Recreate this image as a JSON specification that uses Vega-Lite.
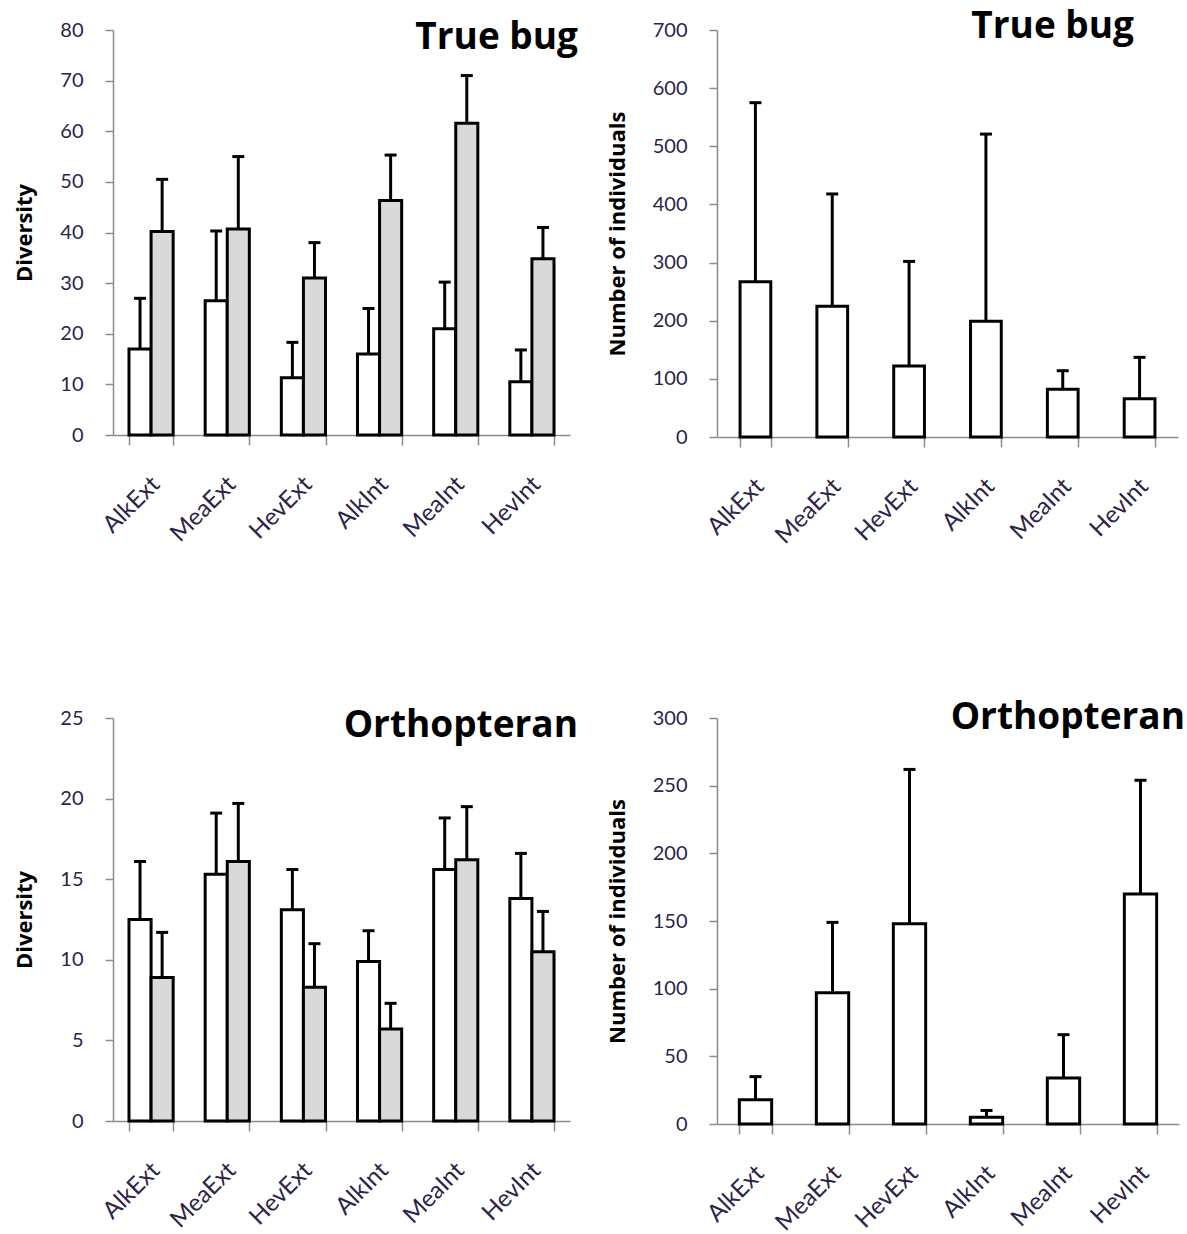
{
  "$schema": "https://vega.github.io/schema/vega-lite/v6.json",
  "background": "white",
  "padding": {"left": 13, "top": 8, "right": 0, "bottom": 0},
  "config": {
    "view": {"stroke": null},
    "font": "Lato",
    "axis": {
      "domainColor": "#8c8c8c",
      "domainWidth": 1.5,
      "tickColor": "#8c8c8c",
      "tickWidth": 1.5,
      "grid": false,
      "labelColor": "#2b2548",
      "labelFont": "Lato",
      "labelFontSize": 20,
      "titleFont": "Open Sans",
      "titleFontSize": 22,
      "titleFontWeight": "bold",
      "titleColor": "black"
    },
    "axisX": {"labelAngle": -45, "labelFontSize": 24, "tickSize": 10, "tickBand": "extent", "labelPadding": 27, "labelOffset": -4, "title": null},
    "axisY": {"tickSize": 8, "labelPadding": 22, "titlePadding": 23},
    "title": {"font": "Open Sans", "fontSize": 37, "fontWeight": "bold", "color": "black", "anchor": "end"}
  },
  "datasets": {
    "tb_div": [
      {"site": "AlkExt", "group": "a", "value": 17, "upper": 27},
      {"site": "AlkExt", "group": "b", "value": 40.2, "upper": 50.5},
      {"site": "MeaExt", "group": "a", "value": 26.5, "upper": 40.3},
      {"site": "MeaExt", "group": "b", "value": 40.7, "upper": 55},
      {"site": "HevExt", "group": "a", "value": 11.3, "upper": 18.3},
      {"site": "HevExt", "group": "b", "value": 31, "upper": 38},
      {"site": "AlkInt", "group": "a", "value": 16, "upper": 25},
      {"site": "AlkInt", "group": "b", "value": 46.3, "upper": 55.3},
      {"site": "MeaInt", "group": "a", "value": 21, "upper": 30.2},
      {"site": "MeaInt", "group": "b", "value": 61.6, "upper": 71},
      {"site": "HevInt", "group": "a", "value": 10.5, "upper": 16.8},
      {"site": "HevInt", "group": "b", "value": 34.8, "upper": 41}
    ],
    "tb_num": [
      {"site": "AlkExt", "value": 267, "upper": 575},
      {"site": "MeaExt", "value": 225, "upper": 418},
      {"site": "HevExt", "value": 122, "upper": 302},
      {"site": "AlkInt", "value": 199, "upper": 521},
      {"site": "MeaInt", "value": 82, "upper": 114},
      {"site": "HevInt", "value": 66, "upper": 137}
    ],
    "or_div": [
      {"site": "AlkExt", "group": "a", "value": 12.5, "upper": 16.1},
      {"site": "AlkExt", "group": "b", "value": 8.9, "upper": 11.7},
      {"site": "MeaExt", "group": "a", "value": 15.3, "upper": 19.1},
      {"site": "MeaExt", "group": "b", "value": 16.1, "upper": 19.7},
      {"site": "HevExt", "group": "a", "value": 13.1, "upper": 15.6},
      {"site": "HevExt", "group": "b", "value": 8.3, "upper": 11.0},
      {"site": "AlkInt", "group": "a", "value": 9.9, "upper": 11.8},
      {"site": "AlkInt", "group": "b", "value": 5.7, "upper": 7.3},
      {"site": "MeaInt", "group": "a", "value": 15.6, "upper": 18.8},
      {"site": "MeaInt", "group": "b", "value": 16.2, "upper": 19.5},
      {"site": "HevInt", "group": "a", "value": 13.8, "upper": 16.6},
      {"site": "HevInt", "group": "b", "value": 10.5, "upper": 13.0}
    ],
    "or_num": [
      {"site": "AlkExt", "value": 18, "upper": 35},
      {"site": "MeaExt", "value": 97, "upper": 149},
      {"site": "HevExt", "value": 148, "upper": 262},
      {"site": "AlkInt", "value": 5, "upper": 10},
      {"site": "MeaInt", "value": 34, "upper": 66},
      {"site": "HevInt", "value": 170, "upper": 254}
    ]
  },
  "spacing": 150,
  "vconcat": [
    {
      "spacing": 28,
      "hconcat": [
        {
          "width": 457, "height": 405,
          "data": {"name": "tb_div"},
          "title": {"text": "True bug", "offset": -37, "dx": 8},
          "encoding": {
            "x": {"field": "site", "type": "nominal", "sort": ["AlkExt", "MeaExt", "HevExt", "AlkInt", "MeaInt", "HevInt"], "scale": {"paddingInner": 0.42, "paddingOuter": 0.21}},
            "xOffset": {"field": "group", "type": "nominal", "scale": {"paddingInner": 0, "paddingOuter": 0}}
          },
          "layer": [
            {"mark": {"type": "bar", "stroke": "black", "strokeWidth": 3},
             "encoding": {
               "y": {"field": "value", "type": "quantitative", "scale": {"domain": [0, 80], "nice": false}, "axis": {"title": "Diversity", "values": [0, 10, 20, 30, 40, 50, 60, 70, 80]}},
               "fill": {"field": "group", "type": "nominal", "scale": {"domain": ["a", "b"], "range": ["white", "#d9d9d9"]}, "legend": null}
             }},
            {"mark": {"type": "rule", "strokeWidth": 3, "color": "black"},
             "encoding": {"y": {"field": "value", "type": "quantitative", "axis": {"title": "Diversity", "values": [0, 10, 20, 30, 40, 50, 60, 70, 80]}}, "y2": {"field": "upper"}}},
            {"mark": {"type": "tick", "thickness": 3, "size": 12, "color": "black", "opacity": 1},
             "encoding": {"y": {"field": "upper", "type": "quantitative", "axis": {"title": "Diversity", "values": [0, 10, 20, 30, 40, 50, 60, 70, 80]}}}}
          ]
        },
        {
          "width": 461, "height": 407,
          "data": {"name": "tb_num"},
          "title": {"text": "True bug", "offset": -26, "dx": -44},
          "encoding": {
            "x": {"field": "site", "type": "nominal", "sort": ["AlkExt", "MeaExt", "HevExt", "AlkInt", "MeaInt", "HevInt"], "scale": {"paddingInner": 0.6, "paddingOuter": 0.3}}
          },
          "layer": [
            {"mark": {"type": "bar", "stroke": "black", "strokeWidth": 3, "fill": "white"},
             "encoding": {
               "y": {"field": "value", "type": "quantitative", "scale": {"domain": [0, 700], "nice": false}, "axis": {"title": "Number of individuals", "values": [0, 100, 200, 300, 400, 500, 600, 700]}}
             }},
            {"mark": {"type": "rule", "strokeWidth": 3, "color": "black"},
             "encoding": {"y": {"field": "value", "type": "quantitative", "axis": {"title": "Number of individuals", "values": [0, 100, 200, 300, 400, 500, 600, 700]}}, "y2": {"field": "upper"}}},
            {"mark": {"type": "tick", "thickness": 3, "size": 12, "color": "black", "opacity": 1},
             "encoding": {"y": {"field": "upper", "type": "quantitative", "axis": {"title": "Number of individuals", "values": [0, 100, 200, 300, 400, 500, 600, 700]}}}}
          ]
        }
      ]
    },
    {
      "spacing": 28,
      "hconcat": [
        {
          "width": 457, "height": 403,
          "data": {"name": "or_div"},
          "title": {"text": "Orthopteran", "offset": -37, "dx": 8},
          "encoding": {
            "x": {"field": "site", "type": "nominal", "sort": ["AlkExt", "MeaExt", "HevExt", "AlkInt", "MeaInt", "HevInt"], "scale": {"paddingInner": 0.42, "paddingOuter": 0.21}},
            "xOffset": {"field": "group", "type": "nominal", "scale": {"paddingInner": 0, "paddingOuter": 0}}
          },
          "layer": [
            {"mark": {"type": "bar", "stroke": "black", "strokeWidth": 3},
             "encoding": {
               "y": {"field": "value", "type": "quantitative", "scale": {"domain": [0, 25], "nice": false}, "axis": {"title": "Diversity", "values": [0, 5, 10, 15, 20, 25]}},
               "fill": {"field": "group", "type": "nominal", "scale": {"domain": ["a", "b"], "range": ["white", "#d9d9d9"]}, "legend": null}
             }},
            {"mark": {"type": "rule", "strokeWidth": 3, "color": "black"},
             "encoding": {"y": {"field": "value", "type": "quantitative", "axis": {"title": "Diversity", "values": [0, 5, 10, 15, 20, 25]}}, "y2": {"field": "upper"}}},
            {"mark": {"type": "tick", "thickness": 3, "size": 12, "color": "black", "opacity": 1},
             "encoding": {"y": {"field": "upper", "type": "quantitative", "axis": {"title": "Diversity", "values": [0, 5, 10, 15, 20, 25]}}}}
          ]
        },
        {
          "width": 462, "height": 406,
          "data": {"name": "or_num"},
          "title": {"text": "Orthopteran", "offset": -29, "dx": 6},
          "encoding": {
            "x": {"field": "site", "type": "nominal", "sort": ["AlkExt", "MeaExt", "HevExt", "AlkInt", "MeaInt", "HevInt"], "scale": {"paddingInner": 0.58, "paddingOuter": 0.29}}
          },
          "layer": [
            {"mark": {"type": "bar", "stroke": "black", "strokeWidth": 3, "fill": "white"},
             "encoding": {
               "y": {"field": "value", "type": "quantitative", "scale": {"domain": [0, 300], "nice": false}, "axis": {"title": "Number of individuals", "values": [0, 50, 100, 150, 200, 250, 300]}}
             }},
            {"mark": {"type": "rule", "strokeWidth": 3, "color": "black"},
             "encoding": {"y": {"field": "value", "type": "quantitative", "axis": {"title": "Number of individuals", "values": [0, 50, 100, 150, 200, 250, 300]}}, "y2": {"field": "upper"}}},
            {"mark": {"type": "tick", "thickness": 3, "size": 12, "color": "black", "opacity": 1},
             "encoding": {"y": {"field": "upper", "type": "quantitative", "axis": {"title": "Number of individuals", "values": [0, 50, 100, 150, 200, 250, 300]}}}}
          ]
        }
      ]
    }
  ]
}
